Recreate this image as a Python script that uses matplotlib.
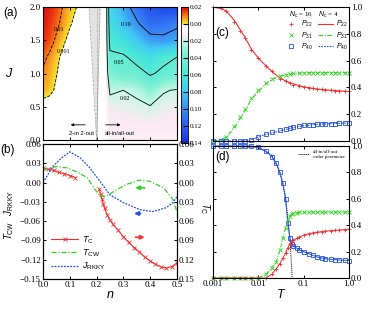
import numpy as np
import matplotlib
matplotlib.use('Agg')
import matplotlib.pyplot as plt
from matplotlib.colors import LinearSegmentedColormap, Normalize
from matplotlib.lines import Line2D
from matplotlib.ticker import FixedLocator, FuncFormatter, NullLocator, FixedFormatter

# ---------------- (a) phase-diagram field ----------------
a_n = [0.0, 0.025, 0.05, 0.075, 0.1, 0.125, 0.15, 0.2, 0.235, 0.25, 0.3, 0.35, 0.4, 0.45, 0.5]
a_J = [0.0, 0.25, 0.5, 0.75, 1.0, 1.25, 1.5, 1.75, 2.0]
a_val = [
    [0.005, 0.005, 0.005, 0.005, 0.005, 0.005, 0.005, 0.004, 0.008, 0.012, 0.012, 0.012, 0.012, 0.012, 0.012],
    [0.005, 0.005, 0.005, 0.005, 0.005, 0.005, 0.005, 0.004, 0.008, 0.013, 0.013, 0.013, 0.013, 0.013, 0.013],
    [0.004, 0.005, 0.005, 0.005, 0.005, 0.005, 0.005, 0.004, 0.008, 0.015, 0.016, 0.017, 0.019, 0.016, 0.015],
    [-0.006, -0.004, 0.001, 0.005, 0.005, 0.005, 0.005, 0.004, 0.008, 0.022, 0.020, 0.023, 0.033, 0.021, 0.019],
    [-0.009, -0.006, -0.0015, 0.004, 0.005, 0.005, 0.005, 0.004, 0.008, 0.035, 0.042, 0.042, 0.052, 0.046, 0.040],
    [-0.012, -0.0085, -0.004, 0.002, 0.005, 0.005, 0.005, 0.004, 0.008, 0.045, 0.047, 0.058, 0.065, 0.055, 0.050],
    [-0.017, -0.0135, -0.0085, -0.0035, 0.003, 0.005, 0.005, 0.004, 0.008, 0.058, 0.065, 0.078, 0.092, 0.095, 0.090],
    [-0.019, -0.016, -0.012, -0.0075, -0.0025, 0.003, 0.005, 0.004, 0.008, 0.065, 0.080, 0.097, 0.113, 0.110, 0.104],
    [-0.020, -0.018, -0.0145, -0.0095, -0.005, -0.001, 0.005, 0.004, 0.008, 0.070, 0.090, 0.110, 0.125, 0.130, 0.130],
]
a_levels_neg = [-0.01, -0.001]
a_levels_pos = [0.02, 0.05, 0.10]
band_J = [0.0, 2.0]
band_left = [0.2, 0.172]
band_right = [0.2, 0.213]
cbar_ticks = [-0.02, 0.0, 0.02, 0.04, 0.06, 0.08, 0.10, 0.12, 0.14]

# ---------------- (b) ----------------
tc_n1 = [0.0, 0.02, 0.04, 0.06, 0.08, 0.10, 0.12]
tc_v1 = [0.023, 0.021, 0.019, 0.016, 0.014, 0.011, 0.008]
tc_n2 = [0.21, 0.215, 0.22, 0.225, 0.23, 0.24, 0.25, 0.26, 0.28, 0.30, 0.32, 0.34, 0.36,
         0.38, 0.40, 0.42, 0.44, 0.46, 0.48, 0.50]
tc_v2 = [-0.010, -0.018, -0.025, -0.033, -0.040, -0.050, -0.058, -0.064, -0.074, -0.084,
         -0.093, -0.101, -0.108, -0.116, -0.122, -0.127, -0.131, -0.133, -0.131, -0.125]
tcw_n = [0.0, 0.05, 0.09, 0.125, 0.165, 0.195, 0.215, 0.24, 0.275, 0.31, 0.36, 0.40, 0.45, 0.485, 0.5]
tcw_v = [0.020, 0.025, 0.023, 0.017, 0.008, -0.011, -0.022, -0.020, -0.011, -0.003, 0.004,
         0.002, -0.008, -0.026, -0.045]
rk_n = [0.0, 0.036, 0.07, 0.10, 0.138, 0.175, 0.213, 0.25, 0.30, 0.362, 0.41, 0.46, 0.485, 0.5]
rk_v = [0.0, 0.025, 0.039, 0.048, 0.039, 0.023, 0.002, -0.019, -0.031, -0.042, -0.045,
        -0.039, -0.031, -0.022]

# ---------------- (c) ----------------
c_T = [0.001, 0.0015, 0.002, 0.003, 0.004, 0.005, 0.007, 0.01, 0.015, 0.02, 0.03, 0.04, 0.05,
       0.06, 0.08, 0.1, 0.13, 0.16, 0.2, 0.25, 0.3, 0.4, 0.5, 0.6, 0.8, 1.0]
c_p22 = [1.0, 0.99, 0.97, 0.89, 0.82, 0.77, 0.68, 0.62, 0.56, 0.52, 0.465, 0.445, 0.43,
         0.42, 0.41, 0.405, 0.398, 0.393, 0.388, 0.385, 0.382, 0.379, 0.377, 0.375, 0.372, 0.37]
c_p31 = [0.0, 0.01, 0.03, 0.11, 0.18, 0.24, 0.32, 0.38, 0.43, 0.46, 0.485, 0.495, 0.50,
         0.505, 0.508, 0.51, 0.51, 0.51, 0.51, 0.51, 0.51, 0.51, 0.51, 0.51, 0.51, 0.51]
c_p40 = [0.0, 0.0, 0.0, 0.0, 0.0, 0.0, 0.01, 0.03, 0.055, 0.065, 0.08, 0.09, 0.10,
         0.105, 0.112, 0.117, 0.12, 0.123, 0.125, 0.127, 0.128, 0.13, 0.131, 0.132, 0.134, 0.135]
c4_T = [0.001, 0.0015, 0.002, 0.003, 0.005, 0.007, 0.01, 0.015, 0.02, 0.03, 0.05, 0.1, 0.2, 0.5, 1.0]
c4_p22 = [1.0, 0.99, 0.97, 0.9, 0.78, 0.69, 0.62, 0.56, 0.52, 0.47, 0.435, 0.405, 0.388, 0.377, 0.37]
c4_p31 = [0.0, 0.01, 0.03, 0.1, 0.22, 0.31, 0.37, 0.43, 0.46, 0.485, 0.50, 0.51, 0.51, 0.51, 0.51]
c4_p40 = [0.0, 0.0, 0.0, 0.0, 0.0, 0.01, 0.03, 0.05, 0.06, 0.075, 0.095, 0.115, 0.125, 0.131, 0.135]

# ---------------- (d) ----------------
d_T = [0.001, 0.0015, 0.002, 0.003, 0.004, 0.005, 0.007, 0.01, 0.015, 0.02, 0.025, 0.03, 0.035,
       0.04, 0.045, 0.05, 0.055, 0.06, 0.07, 0.08, 0.1, 0.13, 0.16, 0.2, 0.25, 0.3, 0.4, 0.5,
       0.6, 0.8, 1.0]
d_p40 = [1.0, 1.0, 1.0, 1.0, 1.0, 1.0, 1.0, 0.99, 0.96, 0.92, 0.87, 0.80, 0.72, 0.60, 0.42,
         0.30, 0.255, 0.24, 0.228, 0.215, 0.20, 0.185, 0.172, 0.16, 0.152, 0.147, 0.142, 0.139,
         0.137, 0.135, 0.133]
d_p31 = [0.0, 0.0, 0.0, 0.0, 0.0, 0.0, 0.0, 0.0, 0.03, 0.08, 0.12, 0.21, 0.30, 0.38, 0.44,
         0.47, 0.485, 0.49, 0.495, 0.497, 0.50, 0.50, 0.50, 0.50, 0.50, 0.50, 0.50, 0.50,
         0.50, 0.50, 0.50]
d_p22 = [0.0, 0.0, 0.0, 0.0, 0.0, 0.0, 0.0, 0.0, 0.0, 0.03, 0.07, 0.11, 0.15, 0.19, 0.23,
         0.26, 0.275, 0.285, 0.30, 0.31, 0.325, 0.335, 0.342, 0.348, 0.352, 0.355, 0.36, 0.362,
         0.364, 0.367, 0.37]
op_T = [0.001, 0.01, 0.02, 0.03, 0.04, 0.045, 0.05, 0.053, 0.056]
op_v = [1.0, 0.99, 0.93, 0.80, 0.62, 0.45, 0.30, 0.15, 0.0]

# ---------------- style ----------------
plt.rcParams['font.family'] = ['Liberation Serif', 'DejaVu Serif']
plt.rcParams['mathtext.fontset'] = 'custom'
plt.rcParams['mathtext.it'] = 'Liberation Sans:italic'
plt.rcParams['mathtext.rm'] = 'Liberation Sans'
plt.rcParams['mathtext.sf'] = 'Liberation Sans'
plt.rcParams['axes.linewidth'] = 0.8
plt.rcParams['xtick.direction'] = 'in'
plt.rcParams['ytick.direction'] = 'in'
plt.rcParams['xtick.major.size'] = 2.2
plt.rcParams['ytick.major.size'] = 2.2
plt.rcParams['xtick.major.width'] = 0.7
plt.rcParams['ytick.major.width'] = 0.7
plt.rcParams['xtick.major.pad'] = 1.5
plt.rcParams['ytick.major.pad'] = 1.5
plt.rcParams['xtick.labelsize'] = 6.5
plt.rcParams['ytick.labelsize'] = 6.5

SANS = 'Liberation Sans'
RED = '#f03030'
GREEN = '#30d020'
BLUE = '#2050e8'


def mfmt(v, pos=None):
    s = '%.2f' % v
    if s == '-0.00':
        s = '0.00'
    return s.replace('-', '\u2212')


def absfmt(v, pos=None):
    return '%.2f' % abs(v)


fig = plt.figure(figsize=(3.74, 3.10), dpi=100)
ax_a = fig.add_axes([0.115, 0.548, 0.358, 0.429])
cax = fig.add_axes([0.484, 0.539, 0.019, 0.438])
ax_b = fig.add_axes([0.115, 0.100, 0.358, 0.435])
ax_c = fig.add_axes([0.569, 0.545, 0.364, 0.432])
ax_d = fig.add_axes([0.569, 0.103, 0.364, 0.426])

# ---------------- (a) ----------------
vmin, vmax = -0.02, 0.14


def p(v):
    return (v - vmin) / (vmax - vmin)


cmap = LinearSegmentedColormap.from_list('pd', [
    (p(-0.02), '#e01010'), (p(-0.015), '#ec3a10'), (p(-0.01), '#f47a18'),
    (p(-0.005), '#f8b828'), (p(-0.001), '#f2e630'), (p(0.0), '#ffffff'),
    (p(0.008), '#ffffff'), (p(0.013), '#fde9f2'), (p(0.02), '#c8f7e6'),
    (p(0.035), '#80f0d2'), (p(0.06), '#48e6d8'), (p(0.08), '#40c8f4'),
    (p(0.10), '#3a8cf4'), (p(0.12), '#2a5ef0'), (p(0.14), '#1434e0')])
Z = np.array(a_val)
cf = ax_a.contourf(a_n, a_J, Z, levels=np.linspace(vmin, vmax, 321), cmap=cmap,
                   norm=Normalize(vmin, vmax), antialiased=False)
ax_a.contour(a_n, a_J, Z, levels=a_levels_neg, colors='k', linewidths=0.6)
ax_a.contour(a_n, a_J, Z, levels=a_levels_pos, colors='k', linewidths=0.6)
ax_a.fill_betweenx(band_J, band_left, band_right, color='#e2e2e2', zorder=3, lw=0)
ax_a.plot(band_left, band_J, color='#909090', lw=0.5, ls=(0, (3, 1, 1, 1)), zorder=4)
ax_a.plot(band_right, band_J, color='#909090', lw=0.5, ls=(0, (3, 1, 1, 1)), zorder=4)
ax_a.plot([0.2, 0.2], [0.0, 2.0], color='#707070', lw=0.5, ls=':', zorder=4)
for lab, xx, yy in [('0.01', 0.06, 1.66), ('0.001', 0.075, 1.33), ('0.10', 0.31, 1.74),
                    ('0.05', 0.285, 1.17), ('0.02', 0.305, 0.63)]:
    ax_a.text(xx, yy, lab, fontsize=4.3, ha='center', va='center', zorder=5)
ax_a.annotate('', xy=(0.093, 0.23), xytext=(0.168, 0.23),
              arrowprops=dict(arrowstyle='-|>', lw=0.6, color='k', mutation_scale=4))
ax_a.annotate('', xy=(0.30, 0.23), xytext=(0.224, 0.23),
              arrowprops=dict(arrowstyle='-|>', lw=0.6, color='k', mutation_scale=4))
ax_a.text(0.143, 0.1, '2-in 2-out', fontsize=4.2, family=SANS, ha='center', va='center')
ax_a.text(0.287, 0.1, 'all-in/all-out', fontsize=4.2, family=SANS, ha='center', va='center')
ax_a.set_xlim(0, 0.5)
ax_a.set_ylim(0, 2.0)
ax_a.xaxis.set_major_locator(FixedLocator([0.1, 0.2, 0.3, 0.4]))
ax_a.yaxis.set_major_locator(FixedLocator([0.0, 0.5, 1.0, 1.5, 2.0]))
ax_a.yaxis.set_major_formatter(FuncFormatter(lambda v, q: '%.1f' % v))
ax_a.tick_params(labelbottom=False, right=True, top=True)
for sp in ax_a.spines.values():
    sp.set_zorder(6)
ax_a.text(-0.30, 0.955, '(a)', transform=ax_a.transAxes, fontsize=8.5, family=SANS,
          ha='left', va='center')
ax_a.text(-0.25, 0.5, '$J$', transform=ax_a.transAxes, fontsize=9, ha='center', va='center')

cb = fig.colorbar(cf, cax=cax, ticks=cbar_ticks)
cax.set_ylim(vmax, vmin)
cb.ax.yaxis.set_major_formatter(FuncFormatter(absfmt))
cb.ax.tick_params(labelsize=5, direction='in', length=3.5, width=0.8, pad=1.5)
cb.outline.set_linewidth(0.6)

# ---------------- (b) ----------------
l_tc, = ax_b.plot(tc_n1, tc_v1, color=RED, lw=0.8, marker='x', ms=2.5, mew=0.6)
ax_b.plot(tc_n2, tc_v2, color=RED, lw=0.8, marker='x', ms=2.5, mew=0.6)
l_cw, = ax_b.plot(tcw_n, tcw_v, color=GREEN, lw=0.9, ls=(0, (4, 1.5, 1, 1.5)))
l_rk, = ax_b.plot(rk_n, rk_v, color=BLUE, lw=0.9, ls=(0, (1.5, 1)))
ax_b.set_xlim(0, 0.5)
ax_b.set_ylim(-0.15, 0.06)
yt = [-0.15, -0.12, -0.09, -0.06, -0.03, 0.0, 0.03, 0.06]
ax_b.yaxis.set_major_locator(FixedLocator(yt))
ax_b.yaxis.set_major_formatter(FuncFormatter(mfmt))
ax_b.xaxis.set_major_locator(FixedLocator([0.0, 0.1, 0.2, 0.3, 0.4, 0.5]))
ax_b.xaxis.set_major_formatter(FuncFormatter(lambda v, q: '%.1f' % v))
ax_b.tick_params(top=True)
tw = ax_b.twinx()
tw.set_ylim(-0.15, 0.06)
tw.yaxis.set_major_locator(FixedLocator(yt))
tw.yaxis.set_major_formatter(FuncFormatter(absfmt))
tw.tick_params(direction='in', labelsize=6.5, pad=1.5)
ax_b.annotate('', xy=(0.334, -0.008), xytext=(0.39, -0.008),
              arrowprops=dict(arrowstyle='-|>', lw=1.2, color=GREEN, mutation_scale=6))
ax_b.annotate('', xy=(0.330, -0.048), xytext=(0.375, -0.048),
              arrowprops=dict(arrowstyle='-|>', lw=1.2, color=BLUE, mutation_scale=6))
ax_b.annotate('', xy=(0.39, -0.085), xytext=(0.335, -0.085),
              arrowprops=dict(arrowstyle='-|>', lw=1.2, color=RED, mutation_scale=6))
ax_b.legend([l_tc, l_cw, l_rk], ['$T_\\mathrm{C}$', '$T_\\mathrm{CW}$', '$J_\\mathrm{RKKY}$'],
            loc='lower left', bbox_to_anchor=(0.06, 0.05), frameon=False, fontsize=6.5,
            handlelength=3.0, labelspacing=0.2, handletextpad=0.4, borderaxespad=0,
            borderpad=0)
ax_b.set_xlabel('$n$', fontsize=9, labelpad=0)
fig.text(9 / 374, 1 - 215 / 310, '$T_\\mathrm{CW}$   $J_\\mathrm{RKKY}$', rotation=90,
         fontsize=7, ha='center', va='center')
fig.text(205 / 374, 1 - 208 / 310, '$T_\\mathrm{C}$', rotation=270, fontsize=7,
         ha='center', va='center')
ax_b.text(-0.32, 0.96, '(b)', transform=ax_b.transAxes, fontsize=8.5, family=SANS,
          ha='left', va='center')

# ---------------- (c) ----------------
ax_c.set_xscale('log')
ax_c.plot(c4_T, c4_p22, color=RED, lw=0.8)
ax_c.plot(c4_T, c4_p31, color=GREEN, lw=0.8, ls=(0, (4, 1.5, 1, 1.5)))
ax_c.plot(c4_T, c4_p40, color=BLUE, lw=0.8, ls=(0, (1.5, 1)))
ax_c.plot(c_T, c_p22, ls='none', color=RED, marker='+', ms=3.5, mew=0.6, clip_on=False)
ax_c.plot(c_T, c_p31, ls='none', color=GREEN, marker='x', ms=2.8, mew=0.6, clip_on=False)
ax_c.plot(c_T, c_p40, ls='none', color=BLUE, marker='s', ms=3, mew=0.6, mfc='none',
          clip_on=False)
ax_c.set_xlim(0.001, 1.0)
ax_c.set_ylim(0, 1.0)
ax_c.xaxis.set_major_locator(FixedLocator([0.001, 0.01, 0.1, 1.0]))
ax_c.xaxis.set_minor_locator(NullLocator())
ax_c.yaxis.set_major_locator(FixedLocator([0.0, 0.2, 0.4, 0.6, 0.8, 1.0]))
ax_c.yaxis.set_major_formatter(FuncFormatter(lambda v, q: '%.1f' % v))
ax_c.tick_params(labelbottom=False, labelleft=False, labelright=True, right=True, top=True)
h16 = [Line2D([], [], ls='none', color=RED, marker='+', ms=3.5, mew=0.6),
       Line2D([], [], ls='none', color=GREEN, marker='x', ms=2.8, mew=0.6),
       Line2D([], [], ls='none', color=BLUE, marker='s', ms=3, mew=0.6, mfc='none')]
h4 = [Line2D([], [], color=RED, lw=0.8),
      Line2D([], [], color=GREEN, lw=0.8, ls=(0, (4, 1.5, 1, 1.5))),
      Line2D([], [], color=BLUE, lw=0.8, ls=(0, (1.5, 1)))]
labs = ['$P_{22}$', '$P_{31}$', '$P_{40}$']
ax_c.legend(h16 + h4, labs + labs, ncol=2, loc='upper right', bbox_to_anchor=(0.99, 0.91),
            frameon=False, fontsize=5, handlelength=2.2, columnspacing=0.6,
            handletextpad=0.4, labelspacing=0.15, borderaxespad=0, borderpad=0)
ax_c.text(0.56, 0.94, '$N_\\mathrm{c}$ = 16', transform=ax_c.transAxes, fontsize=5,
          ha='left', va='center')
ax_c.text(0.77, 0.94, '$N_\\mathrm{c}$ = 4', transform=ax_c.transAxes, fontsize=5,
          ha='left', va='center')
ax_c.text(0.02, 0.81, '(c)', transform=ax_c.transAxes, fontsize=8.5, family=SANS,
          ha='left', va='center')

# ---------------- (d) ----------------
ax_d.set_xscale('log')
ax_d.plot(op_T, op_v, color='k', lw=0.7, ls=(0, (1, 1)), zorder=1)
ax_d.plot(d_T, d_p40, color=BLUE, lw=0.7, marker='s', ms=3, mew=0.6, mfc='none',
          clip_on=False, zorder=2)
ax_d.plot(d_T, d_p31, color=GREEN, lw=0.7, ls=(0, (4, 1.5, 1, 1.5)), marker='x', ms=2.8,
          mew=0.6, clip_on=False, zorder=2)
ax_d.plot(d_T, d_p22, color=RED, lw=0.7, marker='+', ms=3.5, mew=0.6, clip_on=False,
          zorder=2)
ax_d.set_xlim(0.001, 1.0)
ax_d.set_ylim(0, 1.0)
ax_d.xaxis.set_major_locator(FixedLocator([0.001, 0.01, 0.1, 1.0]))
ax_d.xaxis.set_major_formatter(FixedFormatter(['0.001', '0.01', '0.1', '1.0']))
ax_d.xaxis.set_minor_locator(NullLocator())
ax_d.yaxis.set_major_locator(FixedLocator([0.0, 0.2, 0.4, 0.6, 0.8, 1.0]))
ax_d.yaxis.set_major_formatter(FuncFormatter(lambda v, q: '%.1f' % v))
ax_d.tick_params(labelleft=False, labelright=True, right=True, top=True)
ax_d.legend([Line2D([], [], color='k', lw=0.7, ls=(0, (1, 1)))],
            ['all-in/all-out\norder parameter'], loc='upper right',
            bbox_to_anchor=(0.97, 0.97), frameon=False, fontsize=3.6, handlelength=2.2,
            borderaxespad=0, borderpad=0, handletextpad=0.8)
ax_d.set_xlabel('$T$', fontsize=9, labelpad=0)
ax_d.text(0.02, 0.92, '(d)', transform=ax_d.transAxes, fontsize=8.5, family=SANS,
          ha='left', va='center')

fig.savefig('out.png', dpi=100)
